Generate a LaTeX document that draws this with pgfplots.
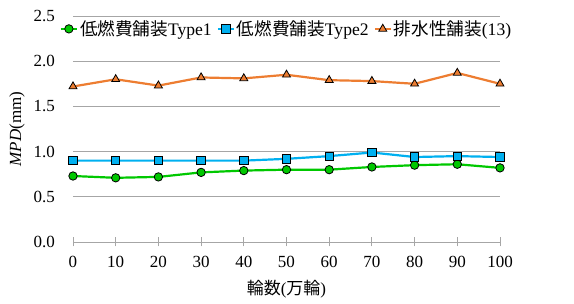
\documentclass[border=0pt]{standalone}
\usepackage{fontspec}
\setmainfont{Liberation Serif}
\newfontfamily\cjk{Noto Sans CJK JP}
\usepackage{pgfplots}
\pgfplotsset{compat=1.18}
\definecolor{cg}{RGB}{0,200,0}
\definecolor{cb}{RGB}{0,176,240}
\definecolor{co}{RGB}{237,125,49}
\definecolor{gridc}{RGB}{166,166,166}
\begin{document}
\begin{tikzpicture}
\path (-73pt,-62pt) rectangle (501pt,242pt);
\begin{axis}[
  at={(0pt,0pt)}, anchor=south west,
  scale only axis, width=427pt, height=226pt,
  font=\fontsize{17}{19}\selectfont,
  xmin=0, xmax=100, ymin=0, ymax=2.5,
  xtick={0,10,...,100},
  ytick={0,0.5,...,2.5},
  /pgf/number format/assume math mode=true,
  yticklabel style={/pgf/number format/fixed,/pgf/number format/fixed zerofill,/pgf/number format/precision=1, xshift=-10pt},
  xticklabel style={yshift=-6pt},
  axis line style={draw=none},
  ymajorgrids, grid style={gridc, line width=0.8pt},
  xtick pos=bottom, tick align=center, major tick length=9pt,
  xtick style={gridc, line width=0.8pt},
  ytick style={draw=none},
  clip=false,
  xlabel={{\cjk 輪数}({\cjk 万輪})},
  ylabel={\textit{MPD}(mm)},
  xlabel style={yshift=-6pt},
  ylabel style={yshift=2pt},
  legend style={draw=none, fill=none, at={(rel axis cs:0.5,0.943)}, anchor=center,
    legend columns=3, font=\fontsize{17.6}{19}\selectfont,
    /tikz/every even column/.append style={column sep=3pt}},
  legend image code/.code={\draw[mark repeat=2,mark phase=2,#1] plot coordinates {(0pt,0pt) (8pt,0pt) (16pt,0pt)};},
  legend cell align=left,
  every axis plot/.append style={line width=2.2pt},
]
\addplot[cg, mark=*, mark size=4.2pt, mark options={fill=cg, draw=black, line width=0.8pt}] coordinates {
(0,0.73) (10,0.71) (20,0.72) (30,0.77) (40,0.79) (50,0.80) (60,0.80) (70,0.83) (80,0.85) (90,0.86) (100,0.82)};
\addlegendentry{{\cjk 低燃費舗装}Type1}
\addplot[cb, mark=square*, mark size=4.2pt, mark options={fill=cb, draw=black, line width=0.8pt}] coordinates {
(0,0.90) (10,0.90) (20,0.90) (30,0.90) (40,0.90) (50,0.92) (60,0.95) (70,0.99) (80,0.94) (90,0.95) (100,0.94)};
\addlegendentry{{\cjk 低燃費舗装}Type2}
\addplot[co, mark=triangle*, mark size=4.6pt, mark options={fill=co, draw=black, line width=0.8pt}] coordinates {
(0,1.72) (10,1.80) (20,1.73) (30,1.82) (40,1.81) (50,1.85) (60,1.79) (70,1.78) (80,1.75) (90,1.87) (100,1.75)};
\addlegendentry{{\cjk 排水性舗装}(13)}
\end{axis}
\end{tikzpicture}
\end{document}
